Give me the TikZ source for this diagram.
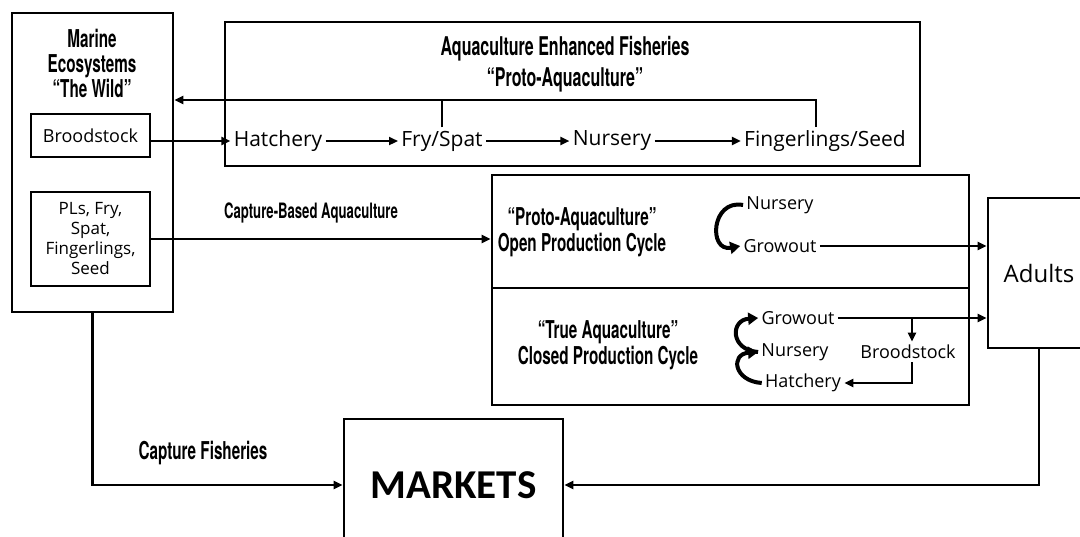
\documentclass[tikz,border=0pt]{standalone}
\usepackage{fontspec}
\setmainfont{Open Sans}
\newfontfamily\headfont{TeX Gyre Heros}[FakeStretch=0.62]
\newfontfamily\mktfont{Carlito}
\usetikzlibrary{arrows.meta,fit,positioning}

\tikzset{
  frame/.style={draw, line width=1.4pt, inner sep=0pt},
  stage/.style={font=\fontsize{10.5}{12}\selectfont, inner sep=1.5pt},
  substage/.style={font=\fontsize{9}{10}\selectfont, inner sep=1.5pt},
  heading/.style={font=\headfont\bfseries\fontsize{12.3}{13}\selectfont, align=center},
  flow/.style={line width=1.1pt, -{Triangle[length=4.5pt,width=4pt]}},
  link/.style={line width=1.1pt},
  turn/.style={line width=2pt, -{Triangle[length=5pt,width=6pt]}},
}

\begin{document}
\begin{tikzpicture}[x=0.5pt,y=-0.5pt]
  \useasboundingbox (0,0) rectangle (1080,536);

  \node[frame, fit={(12,13) (173,312)}] (wild) {};
  \node[heading, font=\headfont\bfseries\fontsize{12.3}{12.5}\selectfont] (wildtitle) at (92,63) {Marine\\Ecosystems\\“The Wild”};
  \node[frame, line width=1.3pt, minimum width=59.5pt, minimum height=21.5pt, font=\fontsize{9}{10}\selectfont] (brood) at (90.5,135.5) {Broodstock};
  \node[frame, line width=1.3pt, minimum width=59.5pt, minimum height=47pt, align=center, font=\fontsize{8.5}{10}\selectfont] (seeds) at (90.5,239) {PLs, Fry,\\Spat,\\Fingerlings,\\Seed};

  \node[frame, fit={(225,22) (920,166)}] (enh) {};
  \node[heading, font=\headfont\bfseries\fontsize{12.9}{15.5}\selectfont] (enhtitle) at (565,64) {Aquaculture Enhanced Fisheries\\“Proto-Aquaculture”};
  \node[stage] (hatch) at (278,141) {Hatchery};
  \node[stage] (fry) at (442,141) {Fry/Spat};
  \node[stage] (nurs) at (612,141) {Nursery};
  \node[stage] (fing) at (825,141) {Fingerlings/Seed};
  \draw[flow] (brood.east |- hatch.west) -- (hatch.west);
  \draw[flow] (hatch) -- (fry);
  \draw[flow] (fry) -- (nurs);
  \draw[flow] (nurs) -- (fing);
  \coordinate (ret) at (816,100);
  \draw[flow] (fing.north -| ret) -- (ret) -- (ret -| wild.east);
  \draw[link] (fry.north) -- (fry.north |- ret);

  \node[heading, font=\headfont\bfseries\fontsize{10.6}{11}\selectfont] (cbalabel) at (311,213) {Capture-Based Aquaculture};

  \node[frame, fit={(492,175) (969,288)}] (proto) {};
  \node[frame, fit={(492,288) (969,405)}] (closed) {};
  \draw[flow] (seeds.east) -- (seeds.east -| proto.west);

  \node[heading] (prototitle) at (582,232) {“Proto-Aquaculture”\\Open Production Cycle};
  \node[substage] (pnurs) at (780,205) {Nursery};
  \node[substage] (pgrow) at (780,246) {Growout};
  \draw[turn] (pnurs.west) .. controls +(-32,-6) and +(-32,6) .. (pgrow.west);

  \node[frame, minimum width=51pt, minimum height=75pt, font=\fontsize{12}{14}\selectfont] (adults) at (1039,273) {Adults};
  \draw[flow] (pgrow.east) -- (pgrow.east -| adults.west);

  \node[heading] (closedtitle) at (608,345) {“True Aquaculture”\\Closed Production Cycle};
  \node[substage] (tgrow) at (798,318) {Growout};
  \node[substage] (tnurs) at (795,352) {Nursery};
  \node[substage] (thatch) at (803,383) {Hatchery};
  \node[substage] (tbrood) at (908,352) {Broodstock};
  \draw[turn] (tnurs.west) .. controls +(-28,-2) and +(-28,2) .. (tgrow.west);
  \draw[turn] (thatch.west) .. controls +(-28,-2) and +(-28,2) .. (tnurs.west);
  \coordinate (split) at (912,318);
  \draw[flow] (tgrow.east) -- (tgrow.east -| adults.west);
  \draw[flow] (split) -- (tbrood.north -| split);
  \draw[flow] (tbrood.south -| split) |- (thatch.east);

  \node[frame, minimum width=109.5pt, minimum height=66pt, font=\mktfont\bfseries\fontsize{20.5}{24}\selectfont] (markets) at (453.5,485) {MARKETS};
  \node[heading] (cflabel) at (203,453) {Capture Fisheries};
  \draw[flow] (wild.south) |- (markets.west);
  \draw[flow] (adults.south) |- (markets.east);
\end{tikzpicture}
\end{document}
